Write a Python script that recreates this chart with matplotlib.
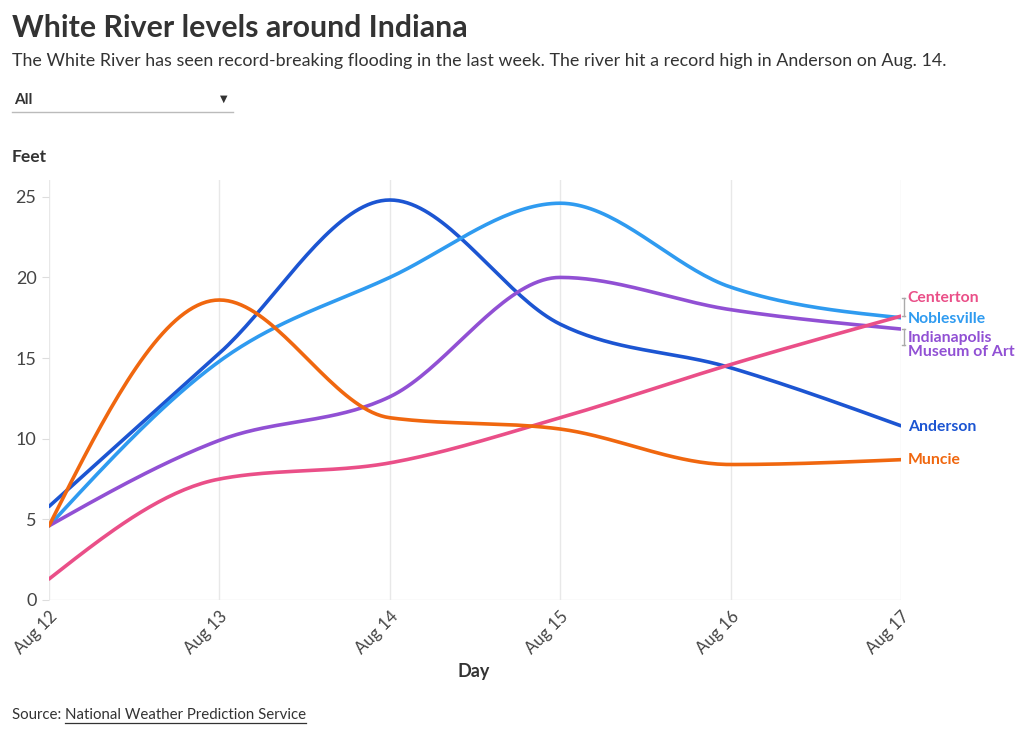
import numpy as np
import matplotlib.pyplot as plt
from matplotlib.lines import Line2D

days = ['Aug 12', 'Aug 13', 'Aug 14', 'Aug 15', 'Aug 16', 'Aug 17']
anderson = [5.8, 15.3, 24.8, 17.1, 14.4, 10.8]
noblesville = [4.6, 14.8, 20.0, 24.6, 19.4, 17.5]
indianapolis = [4.6, 9.9, 12.6, 20.0, 18.0, 16.8]
centerton = [1.3, 7.5, 8.5, 11.3, 14.6, 17.6]
muncie = [4.6, 18.6, 11.3, 10.6, 8.4, 8.7]

series = [
    ('Anderson', anderson, '#1c55d2'),
    ('Noblesville', noblesville, '#2f9bf0'),
    ('Indianapolis\nMuseum of Art', indianapolis, '#9150d4'),
    ('Centerton', centerton, '#ea4f88'),
    ('Muncie', muncie, '#f0670f'),
]

plt.rcParams['font.family'] = ['Lato', 'DejaVu Sans']
TXT = '#333333'


# кривая как у d3.curveMonotoneX
def monotone_x(x, y, n=40):
    x = np.asarray(x, float)
    y = np.asarray(y, float)
    k = len(x)
    h = np.diff(x)
    s = np.diff(y) / h
    t = np.zeros(k)
    for i in range(1, k - 1):
        p = (s[i - 1] * h[i] + s[i] * h[i - 1]) / (h[i - 1] + h[i])
        t[i] = (np.sign(s[i - 1]) + np.sign(s[i])) * min(abs(s[i - 1]), abs(s[i]), 0.5 * abs(p))
    t[0] = (3 * s[0] - t[1]) / 2
    t[-1] = (3 * s[-1] - t[-2]) / 2
    xs, ys = [], []
    u = np.linspace(0, 1, n)
    for i in range(k - 1):
        dx = h[i] / 3
        px = [x[i], x[i] + dx, x[i + 1] - dx, x[i + 1]]
        py = [y[i], y[i] + dx * t[i], y[i + 1] - dx * t[i + 1], y[i + 1]]
        b = [(1 - u) ** 3, 3 * u * (1 - u) ** 2, 3 * u ** 2 * (1 - u), u ** 3]
        xs.append(sum(bb * pp for bb, pp in zip(b, px)))
        ys.append(sum(bb * pp for bb, pp in zip(b, py)))
    return np.concatenate(xs), np.concatenate(ys)


fig = plt.figure(figsize=(10.2, 7.35), dpi=100)
ax = fig.add_axes([49 / 1020, 135 / 735, 852 / 1020, 420 / 735])

xi = np.arange(len(days))
for name, vals, col in series:
    cx, cy = monotone_x(xi, vals)
    ax.plot(cx, cy, color=col, lw=2.6, solid_capstyle='round', zorder=3)

ax.set_xlim(0, len(days) - 1)
ax.set_ylim(0, 26.04)
ax.set_yticks([0, 5, 10, 15, 20, 25])
ax.set_xticks(xi)
ax.set_xticklabels(days, rotation=45, ha='right', va='top', rotation_mode='anchor')
for spine in ax.spines.values():
    spine.set_visible(False)
ax.grid(axis='x', color='#e8e8e8', lw=1)
ax.axhline(0, color='#e8e8e8', lw=1, zorder=1)
ax.tick_params(axis='y', length=5, color='#dddddd', labelsize=13, labelcolor='#444444', pad=4)
ax.tick_params(axis='x', length=0, labelsize=12, labelcolor='#444444', pad=6)

# подписи справа
label_y = {
    'Centerton': 18.7, 'Noblesville': 17.45, 'Indianapolis\nMuseum of Art': 15.8,
    'Anderson': 10.75, 'Muncie': 8.7,
}
for name, vals, col in series:
    ly = label_y[name]
    ax.text(1.008, ly, name, transform=ax.get_yaxis_transform(), color=col,
            fontsize=11.3, fontweight='bold', va='center', ha='left', linespacing=1.0)
    if abs(ly - vals[-1]) > 0.5:
        ends = [vals[-1], ly]
        ax.add_line(Line2D([1.003, 1.003], ends, transform=ax.get_yaxis_transform(),
                           color='#aaaaaa', lw=1, clip_on=False))
        for e in ends:
            ax.add_line(Line2D([1.001, 1.005], [e, e], transform=ax.get_yaxis_transform(),
                               color='#aaaaaa', lw=1, clip_on=False))

fig.text(12 / 1020, 1 - 28 / 735, 'White River levels around Indiana', fontsize=21.8,
         fontweight='bold', color=TXT, va='center')
fig.text(12 / 1020, 1 - 61 / 735,
         'The White River has seen record-breaking flooding in the last week. '
         'The river hit a record high in Anderson on Aug. 14.',
         fontsize=12.9, color=TXT, va='center')
fig.text(14 / 1020, 1 - 100 / 735, 'All', fontsize=11, fontweight='bold', color=TXT, va='center')
fig.text(224 / 1020, 1 - 99 / 735, '\u25BC', fontsize=7, color=TXT, va='center', ha='center',
         family='DejaVu Sans')
fig.add_artist(Line2D([12 / 1020, 233 / 1020], [1 - 112 / 735] * 2, color='#bbbbbb', lw=1))
fig.text(12 / 1020, 1 - 157 / 735, 'Feet', fontsize=12.5, fontweight='bold', color=TXT, va='center')
fig.text(474 / 1020, 1 - 671 / 735, 'Day', fontsize=13, fontweight='bold', color=TXT,
         va='center', ha='center')
src = fig.text(12 / 1020, 1 - 715 / 735, 'Source: ', fontsize=10.8, color=TXT, va='center')
fig.canvas.draw()
bb = src.get_window_extent()
link = fig.text(bb.x1 / 1020, 1 - 715 / 735, 'National Weather Prediction Service',
                fontsize=10.8, color=TXT, va='center')
fig.canvas.draw()
lb = link.get_window_extent()
fig.add_artist(Line2D([lb.x0 / 1020, lb.x1 / 1020], [(lb.y0 - 1) / 735] * 2, color=TXT, lw=0.9))

fig.savefig('out.png', dpi=100, facecolor='white')
